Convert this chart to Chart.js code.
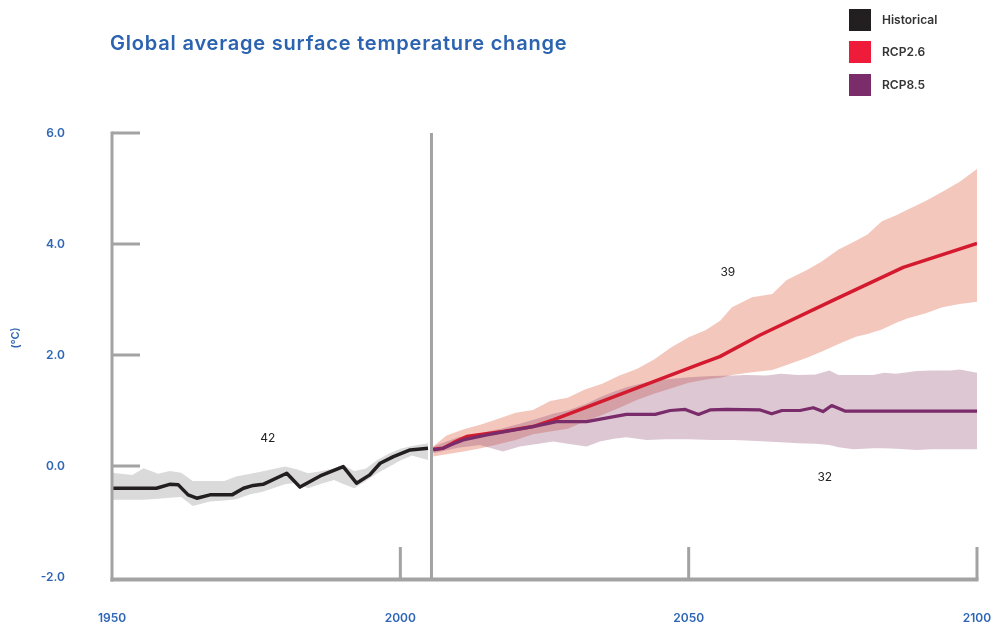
<!DOCTYPE html>
<html>
<head>
<meta charset="utf-8">
<script src="https://cdn.jsdelivr.net/npm/chart.js@4.4.1/dist/chart.umd.min.js"></script>
<style>
  body { margin: 0; background: #fff; font-family: Inter, "Noto Sans", sans-serif; }
  #wrap { position: relative; width: 994px; height: 630px; }
  #title { position: absolute; left: 110px; top: 31px; font-size: 20px; letter-spacing: 0.8px; font-weight: 600; color: #2b63b0; white-space: nowrap; }
  .box { position: absolute; left: 849px; width: 22px; height: 22px; }
  .legText { position: absolute; left: 882px; font-size: 12px; font-weight: 600; color: #333; line-height: 22px; }
</style>
</head>
<body>
<div id="wrap">
  <canvas id="tempChart" width="994" height="630"></canvas>
  <div id="title">Global average surface temperature change</div>
  <div class="box" style="top:9px;background:#231f20"></div><div class="legText" style="top:9px">Historical</div>
  <div class="box" style="top:41px;background:#ee1c3a"></div><div class="legText" style="top:41px">RCP2.6</div>
  <div class="box" style="top:74px;background:#7b2d6b"></div><div class="legText" style="top:74px">RCP8.5</div>
</div>
<script>
// historical mean and its range
const histYears = [1950, 1957.7, 1960, 1961.5, 1963.2, 1964.7, 1967, 1970.8, 1972.8, 1974.5, 1976.2, 1980.3, 1982.6, 1986.1, 1990.1, 1992.4, 1994.7, 1996.5, 1998.8, 2001.7, 2004.8];
const histTemp = [-0.40, -0.40, -0.33, -0.34, -0.52, -0.58, -0.52, -0.52, -0.40, -0.35, -0.33, -0.13, -0.38, -0.18, -0.01, -0.31, -0.16, 0.05, 0.17, 0.29, 0.32];
const histBandYears = [1950, 1953.5, 1955.5, 1958, 1960, 1962, 1964, 1967, 1969.5, 1971.5, 1974, 1976, 1980, 1982, 1984, 1986, 1988.5, 1990, 1992, 1994, 1996, 1998, 2000, 2002, 2004.8];
const histHigh = [-0.12, -0.16, -0.04, -0.14, -0.09, -0.12, -0.27, -0.27, -0.27, -0.19, -0.14, -0.10, -0.01, -0.06, -0.13, -0.10, -0.04, 0.02, -0.09, -0.05, 0.11, 0.22, 0.31, 0.36, 0.41];
const histLow = [-0.61, -0.61, -0.61, -0.59, -0.57, -0.56, -0.72, -0.64, -0.62, -0.60, -0.51, -0.47, -0.33, -0.30, -0.40, -0.33, -0.25, -0.32, -0.40, -0.27, -0.13, -0.02, 0.10, 0.19, 0.11];

// RCP2.6 (red)
const rcp26Years = [2005.7, 2007.4, 2009.2, 2011.5, 2017.8, 2023, 2026.5, 2052, 2055.4, 2062.4, 2075.1, 2087.2, 2100];
const rcp26Temp = [0.30, 0.32, 0.42, 0.53, 0.62, 0.71, 0.83, 1.84, 1.97, 2.36, 2.99, 3.58, 4.01];
const rcp26BandYears = [2005.7, 2008, 2011, 2014, 2017, 2020, 2023, 2026, 2029, 2032, 2035, 2038, 2041, 2044, 2047, 2050, 2053, 2055.5, 2057.5, 2061, 2064.5, 2067, 2070.5, 2073, 2076, 2079, 2081, 2083.5, 2086, 2088, 2091, 2094, 2097, 2100];
const rcp26High = [0.35, 0.55, 0.66, 0.75, 0.85, 0.96, 1.01, 1.17, 1.23, 1.38, 1.48, 1.63, 1.75, 1.92, 2.14, 2.32, 2.45, 2.62, 2.86, 3.04, 3.10, 3.35, 3.53, 3.68, 3.90, 4.06, 4.17, 4.41, 4.52, 4.62, 4.77, 4.94, 5.12, 5.35];
const rcp26Low = [0.17, 0.21, 0.26, 0.32, 0.39, 0.47, 0.57, 0.62, 0.67, 0.80, 0.92, 1.05, 1.19, 1.30, 1.40, 1.50, 1.56, 1.59, 1.64, 1.69, 1.73, 1.82, 1.95, 2.06, 2.20, 2.33, 2.38, 2.46, 2.58, 2.66, 2.75, 2.86, 2.92, 2.96];

// RCP8.5 (purple)
const rcp85Years = [2005.7, 2007.4, 2009.2, 2010.9, 2015, 2023, 2027.1, 2032.3, 2039.2, 2044.2, 2046.8, 2049.4, 2051.7, 2053.7, 2056.6, 2062.4, 2064.4, 2066.2, 2069.3, 2071.6, 2073.3, 2074.8, 2077.1, 2100];
const rcp85Temp = [0.29, 0.32, 0.40, 0.47, 0.56, 0.71, 0.80, 0.80, 0.93, 0.93, 1.00, 1.02, 0.93, 1.01, 1.02, 1.01, 0.94, 1.00, 1.00, 1.05, 0.98, 1.09, 0.99, 0.99];
const rcp85BandYears = [2005.7, 2010, 2013.8, 2017.8, 2020.7, 2024, 2026.5, 2029, 2032.3, 2034.6, 2037, 2039.2, 2042.7, 2046, 2050, 2054, 2057.7, 2060, 2063.4, 2066, 2069, 2072, 2074.4, 2076, 2078.6, 2082, 2083.9, 2086, 2089.6, 2092, 2095.4, 2097, 2100];
const rcp85High = [0.35, 0.52, 0.59, 0.68, 0.76, 0.86, 0.94, 1.00, 1.12, 1.24, 1.34, 1.42, 1.51, 1.56, 1.60, 1.62, 1.63, 1.64, 1.63, 1.66, 1.64, 1.65, 1.72, 1.64, 1.64, 1.64, 1.68, 1.66, 1.71, 1.72, 1.72, 1.74, 1.68];
const rcp85Low = [0.23, 0.33, 0.38, 0.26, 0.35, 0.40, 0.44, 0.40, 0.35, 0.44, 0.49, 0.52, 0.47, 0.48, 0.48, 0.47, 0.47, 0.46, 0.44, 0.43, 0.41, 0.40, 0.38, 0.34, 0.30, 0.32, 0.32, 0.31, 0.29, 0.30, 0.30, 0.30, 0.30];

const yTicksStep = 2;
const xTicksStep = 50;

// text notes on the plot, in data units
const notes = [
  {text: "42", year: 1977, value: 0.5},
  {text: "39", year: 2056.8, value: 3.48},
  {text: "32", year: 2073.6, value: -0.2}
];

function pts(xs, ys) {
  return xs.map((v, i) => ({x: v, y: ys[i]}));
}

const blue = "#2e66b5";
const clear = "rgba(0,0,0,0)";

const decor = {
  id: "decor",
  afterDatasetsDraw(chart) {
    const ctx = chart.ctx;
    const a = chart.chartArea;
    const xs = chart.scales.x, ys = chart.scales.y;
    ctx.save();
    ctx.strokeStyle = "#a3a3a3";
    ctx.lineCap = "butt";
    ctx.lineWidth = 3;
    const base = a.bottom + 2.5;
    // left axis
    ctx.beginPath();
    ctx.moveTo(a.left, a.top - 1.5);
    ctx.lineTo(a.left, base + 2);
    ctx.stroke();
    // y tick marks
    [6, 4, 2, 0].forEach(v => {
      const py = ys.getPixelForValue(v);
      ctx.beginPath();
      ctx.moveTo(a.left, py);
      ctx.lineTo(a.left + 28, py);
      ctx.stroke();
    });
    // x tick marks
    [2000, 2050, 2100].forEach(v => {
      const px = xs.getPixelForValue(v);
      ctx.beginPath();
      ctx.moveTo(px, a.bottom - 30);
      ctx.lineTo(px, base);
      ctx.stroke();
    });
    // divider between historical and projections
    const dx = xs.getPixelForValue(2005.4);
    ctx.beginPath();
    ctx.moveTo(dx, a.top);
    ctx.lineTo(dx, base);
    ctx.stroke();
    // bottom axis
    ctx.lineWidth = 4;
    ctx.beginPath();
    ctx.moveTo(a.left - 1.5, base);
    ctx.lineTo(a.right + 1.5, base);
    ctx.stroke();

    // notes
    ctx.fillStyle = "#222";
    ctx.font = "12px Inter, 'Noto Sans', sans-serif";
    ctx.textAlign = "center";
    ctx.textBaseline = "middle";
    notes.forEach(n => {
      ctx.fillText(n.text, xs.getPixelForValue(n.year), ys.getPixelForValue(n.value));
    });

    // unit label
    ctx.fillStyle = blue;
    ctx.font = "600 11px Inter, 'Noto Sans', sans-serif";
    ctx.translate(16, 338);
    ctx.rotate(-Math.PI / 2);
    ctx.fillText("(°C)", 0, 0);
    ctx.restore();
  }
};

window.onload = function() {
  const ctx = document.getElementById("tempChart").getContext("2d");
  new Chart(ctx, {
    type: "line",
    data: {
      datasets: [
        {label: "Historical", data: pts(histYears, histTemp), borderColor: "#231f20", borderWidth: 3.5, borderJoinStyle: "round", pointRadius: 0, fill: false},
        {label: "RCP8.5", data: pts(rcp85Years, rcp85Temp), borderColor: "#7a2b69", borderWidth: 3.2, borderJoinStyle: "round", pointRadius: 0, fill: false},
        {label: "RCP2.6", data: pts(rcp26Years, rcp26Temp), borderColor: "#d41a2f", borderWidth: 3.5, borderJoinStyle: "round", pointRadius: 0, fill: false},
        {label: "RCP8.5 high", data: pts(rcp85BandYears, rcp85High), borderColor: clear, borderWidth: 0, pointRadius: 0, fill: "+1", backgroundColor: "rgba(140,70,110,0.3)"},
        {label: "RCP8.5 low", data: pts(rcp85BandYears, rcp85Low), borderColor: clear, borderWidth: 0, pointRadius: 0, fill: false},
        {label: "RCP2.6 high", data: pts(rcp26BandYears, rcp26High), borderColor: clear, borderWidth: 0, pointRadius: 0, fill: "+1", backgroundColor: "#f4c7bd"},
        {label: "RCP2.6 low", data: pts(rcp26BandYears, rcp26Low), borderColor: clear, borderWidth: 0, pointRadius: 0, fill: false},
        {label: "Historical high", data: pts(histBandYears, histHigh), borderColor: clear, borderWidth: 0, pointRadius: 0, fill: "+1", backgroundColor: "#dadada"},
        {label: "Historical low", data: pts(histBandYears, histLow), borderColor: clear, borderWidth: 0, pointRadius: 0, fill: false}
      ]
    },
    options: {
      responsive: false,
      animation: false,
      layout: {padding: {top: 133, right: 17, left: 0, bottom: 0}},
      plugins: {legend: {display: false}, tooltip: {enabled: false}},
      scales: {
        x: {
          type: "linear", min: 1950, max: 2100,
          grid: {display: false, drawTicks: false},
          border: {display: false},
          ticks: {stepSize: xTicksStep, padding: 34, color: blue, maxRotation: 0, autoSkip: false,
                  font: {family: "Inter, 'Noto Sans', sans-serif", size: 12, weight: "600"},
                  callback: v => String(v)},
          afterFit(s) { s.height = 53; s.paddingLeft = 0; s.paddingRight = 0; }
        },
        y: {
          min: -2, max: 6,
          grid: {display: false, drawTicks: false},
          border: {display: false},
          ticks: {stepSize: yTicksStep, padding: 47, color: blue,
                  font: {family: "Inter, 'Noto Sans', sans-serif", size: 12, weight: "600"},
                  callback: v => v.toFixed(1)},
          afterFit(s) { s.width = 112; s.paddingTop = 0; s.paddingBottom = 0; }
        }
      }
    },
    plugins: [decor]
  });
};
</script>
</body>
</html>
